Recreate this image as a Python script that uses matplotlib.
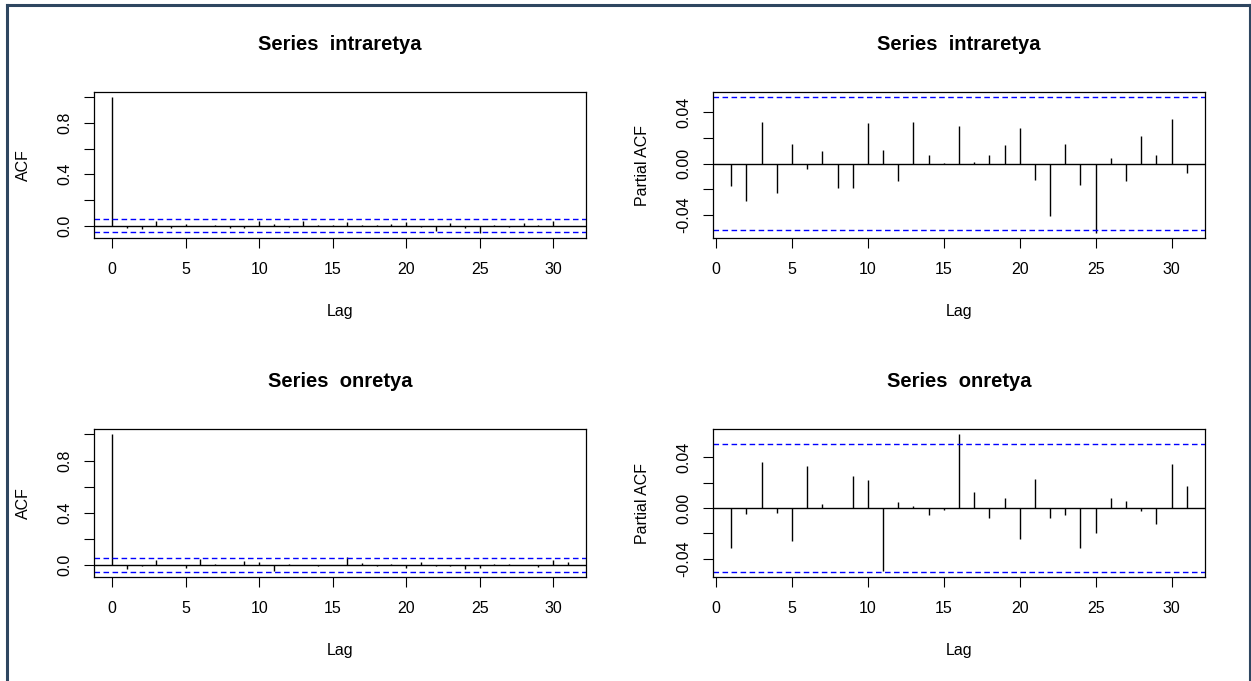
import numpy as np
import matplotlib
matplotlib.use("Agg")
import matplotlib.pyplot as plt
from matplotlib.lines import Line2D

plt.rcParams['font.family'] = ['Liberation Sans', 'DejaVu Sans']

# lags
lags_acf = np.arange(0, 32)
lags_pacf = np.arange(1, 32)

# series intraretya
acf_intra = [1.0, -0.018, -0.028, 0.034, -0.022, 0.012, -0.004, 0.008, -0.018, -0.019,
             0.032, 0.012, -0.014, 0.033, 0.006, 0.001, 0.030, 0.002, 0.006, 0.014,
             0.027, -0.012, -0.040, 0.016, -0.017, -0.055, 0.005, -0.013, 0.021, 0.006,
             0.034, -0.007]
pacf_intra = [-0.0177, -0.0287, 0.0326, -0.0228, 0.0156, -0.0044, 0.0097, -0.0187, -0.0187,
              0.0315, 0.0105, -0.0136, 0.0326, 0.0064, 0.0004, 0.0295, 0.0013, 0.0064,
              0.0144, 0.0274, -0.0126, -0.0408, 0.0156, -0.0169, -0.0536, 0.0044, -0.0136,
              0.0215, 0.0064, 0.0346, -0.0069]
ci_intra = 0.0515

# series onretya
acf_onre = [1.0, -0.033, -0.005, 0.040, -0.004, -0.026, 0.045, 0.004, 0.0, 0.030,
            0.022, -0.048, 0.005, 0.002, -0.006, -0.002, 0.062, 0.013, -0.008, 0.008,
            -0.025, 0.023, -0.008, -0.006, -0.030, -0.022, 0.008, 0.006, -0.003, -0.013,
            0.035, 0.020]
pacf_onre = [-0.0316, -0.0047, 0.0366, -0.0037, -0.0263, 0.0334, 0.0034, 0.0002, 0.0253,
             0.0221, -0.0495, 0.0047, 0.0016, -0.0058, -0.0016, 0.0582, 0.0129, -0.0079,
             0.0076, -0.0245, 0.0232, -0.0079, -0.0058, -0.0316, -0.0200, 0.0076, 0.0058,
             -0.0026, -0.0129, 0.0347, 0.0171]
ci_onre = 0.0503

W, H = 1251, 681
fig = plt.figure(figsize=(W / 100, H / 100), dpi=100)


def rect(l, r, t, b):
    return [l / W, 1 - b / H, (r - l) / W, (b - t) / H]


def r_range(lo, hi):
    d = (hi - lo) * 0.04
    return lo - d, hi + d


def panel(box, lags, vals, ci, title, ylabel, yticks, ylabels):
    ax = fig.add_axes(box)
    vals = np.asarray(vals)
    ax.vlines(lags, 0, vals, color='black', lw=1.0)
    ax.axhline(0, color='black', lw=1.0)
    ax.axhline(ci, color='blue', lw=1.0, ls=(0, (4, 2.5)))
    ax.axhline(-ci, color='blue', lw=1.0, ls=(0, (4, 2.5)))
    ax.set_xlim(*r_range(lags.min(), lags.max()))
    ax.set_ylim(*r_range(min(vals.min(), -ci), max(vals.max(), ci)))
    ax.set_xticks(np.arange(0, 31, 5))
    ax.set_yticks(yticks)
    ax.set_yticklabels(ylabels, rotation=90, va='center')
    ax.tick_params(length=7.5, width=0.8, labelsize=11.5, pad=8, direction='out')
    ax.tick_params(axis='x', pad=9.5)
    for s in ax.spines.values():
        s.set_linewidth(0.9)
    ax.set_title(title, fontsize=14.5, fontweight='bold', pad=30)
    ax.set_xlabel('Lag', fontsize=11.5)
    ax.xaxis.set_label_coords(0.5, -0.50)
    ax.xaxis.label.set_va('center')
    ax.set_ylabel(ylabel, fontsize=11.5)
    ax.yaxis.set_label_coords(-71 / (box[2] * W), 0.5)
    ax.yaxis.label.set_va('center')
    return ax


acf_ticks = [0.0, 0.2, 0.4, 0.6, 0.8, 1.0]
acf_labels = ['0.0', '', '0.4', '', '0.8', '']
pacf_ticks = [-0.04, -0.02, 0.0, 0.02, 0.04]
pacf_labels = ['-0.04', '', '0.00', '', '0.04']

panel(rect(94, 586, 92, 238), lags_acf, acf_intra, ci_intra,
      'Series  intraretya', 'ACF', acf_ticks, acf_labels)
panel(rect(713, 1205, 92, 238), lags_pacf, pacf_intra, ci_intra,
      'Series  intraretya', 'Partial ACF', pacf_ticks, pacf_labels)
panel(rect(94, 586, 429, 577), lags_acf, acf_onre, ci_onre,
      'Series  onretya', 'ACF', acf_ticks, acf_labels)
panel(rect(713, 1205, 429, 577), lags_pacf, pacf_onre, ci_onre,
      'Series  onretya', 'Partial ACF', pacf_ticks, pacf_labels)

# screenshot frame
frame = '#2e4660'
fig.add_artist(Line2D([7 / W, 7 / W], [0, 1 - 5 / H], color=frame, lw=2.2, transform=fig.transFigure))
fig.add_artist(Line2D([7 / W, 1249.5 / W], [1 - 5 / H, 1 - 5 / H], color=frame, lw=2.2, transform=fig.transFigure))
fig.add_artist(Line2D([1249.5 / W, 1249.5 / W], [0, 1 - 5 / H], color=frame, lw=1.5, transform=fig.transFigure))

fig.savefig('out.png', dpi=100)
